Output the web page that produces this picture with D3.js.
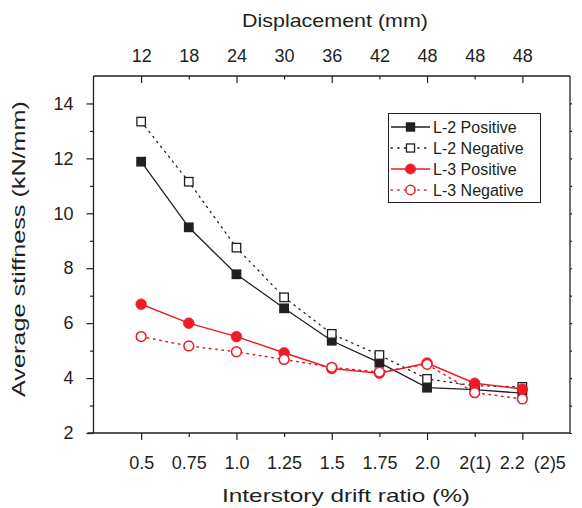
<!DOCTYPE html>
<html><head><meta charset="utf-8">
<script src="https://cdn.jsdelivr.net/npm/d3@7/dist/d3.min.js"></script>
<style>
html,body{margin:0;padding:0;background:#fff;}
text{font-family:"Liberation Sans",Arial,Helvetica,sans-serif;fill:#231f20;}
</style></head>
<body><svg id="c" width="582" height="508"></svg>
<script>
// categories (index positions 1..9)
const categories = [1,2,3,4,5,6,7,8,9];
const bottomLabels = ["0.5","0.75","1.0","1.25","1.5","1.75","2.0","2(1)","2.2 (2)5"];
const topLabels = ["12","18","24","30","36","42","48","48","48"];
const yTicks = [2,4,6,8,10,12,14];
const L2Positive = [11.88, 9.49, 7.78, 6.54, 5.36, 4.56, 3.65, 3.58, 3.45];
const L2Negative = [13.34, 11.15, 8.75, 6.94, 5.61, 4.84, 3.97, 3.72, 3.68];
const L3Positive = [6.69, 6.00, 5.51, 4.92, 4.35, 4.18, 4.55, 3.81, 3.60];
const L3Negative = [5.51, 5.17, 4.96, 4.68, 4.39, 4.22, 4.50, 3.47, 3.24];
const seriesNames = ["L-2 Positive","L-2 Negative","L-3 Positive","L-3 Negative"];

const BLACK="#231f20", RED="#ed1c24";
const svg = d3.select("#c");
const L=93.5, R=570, T=76, B=433;
const x = d3.scaleLinear().domain([0,10]).range([L,R]);
const y = d3.scaleLinear().domain([2,15]).range([B,T]);

const series = [
  {name:seriesNames[0], vals:L2Positive, color:BLACK, shape:"square", filled:true, dash:null},
  {name:seriesNames[1], vals:L2Negative, color:BLACK, shape:"square", filled:false, dash:"1.4,4.9"},
  {name:seriesNames[2], vals:L3Positive, color:RED, shape:"circle", filled:true, dash:null},
  {name:seriesNames[3], vals:L3Negative, color:RED, shape:"circle", filled:false, dash:"1.6,4.7"}
];

const axisStyle = g => { g.selectAll("path").attr("stroke",BLACK).attr("stroke-width",1.3);
  g.selectAll("line").attr("stroke",BLACK).attr("stroke-width",1.2);
  g.selectAll("text").attr("fill",BLACK).style("font-size","18px"); };

// bottom
const gb = svg.append("g").attr("transform",`translate(0,${B})`)
  .call(d3.axisBottom(x).tickValues(categories).tickSizeInner(7).tickSizeOuter(0)
    .tickPadding(16).tickFormat((d,i)=>bottomLabels[i]));
axisStyle(gb);
gb.selectAll(".tick line").attr("y2",(d)=> d%2===1?7:4);
gb.selectAll(".tick text").filter((d,i)=>i===8).attr("text-anchor","start").attr("dx",-23)
  .attr("word-spacing","4px");

// top
const gt = svg.append("g").attr("transform",`translate(0,${T})`)
  .call(d3.axisTop(x).tickValues(categories).tickSizeInner(-7).tickSizeOuter(0)
    .tickPadding(14).tickFormat((d,i)=>topLabels[i]));
axisStyle(gt);
gt.selectAll(".tick line").attr("y2",(d)=> d%2===1?7:3.5);
gt.selectAll(".tick text").attr("dy","0");

// left
const gl = svg.append("g").attr("transform",`translate(${L},0)`)
  .call(d3.axisLeft(y).tickValues(d3.range(2,15,1)).tickSizeInner(7).tickSizeOuter(0)
    .tickPadding(13).tickFormat(d=> yTicks.includes(d)? String(d):""));
axisStyle(gl);
gl.selectAll(".tick line").attr("x2",d=> d%2===0?-7:-3.5);
gl.select(".domain").attr("d",`M0,${B}V${T}`);

// right
const gr = svg.append("g").attr("transform",`translate(${R},0)`)
  .call(d3.axisRight(y).tickValues(d3.range(2,15,1)).tickSizeInner(2).tickSizeOuter(0).tickFormat(""));
axisStyle(gr);
gr.select(".domain").attr("d",`M0,${B}V${T}`);

gb.select(".domain").attr("d",`M${L-6},0H${R}`);
gt.select(".domain").attr("d",`M${L},0H${R}`);

// titles
svg.append("text").attr("x",335).attr("y",27).attr("text-anchor","middle")
  .style("font-size","19px").attr("textLength",186).attr("lengthAdjust","spacingAndGlyphs")
  .text("Displacement (mm)");
svg.append("text").attr("x",346).attr("y",502).attr("text-anchor","middle")
  .style("font-size","19px").attr("textLength",248).attr("lengthAdjust","spacingAndGlyphs")
  .text("Interstory drift ratio (%)");
svg.append("text").attr("transform","translate(25,249) rotate(-90)").attr("text-anchor","middle")
  .style("font-size","19px").attr("textLength",296).attr("lengthAdjust","spacingAndGlyphs")
  .text("Average stiffness (kN/mm)");

// series
const line = d3.line().x((d,i)=>x(categories[i])).y(d=>y(d));
function marker(g, cx, cy, s, scale){
  const k = scale||1;
  if(s.shape==="square"){
    const a = 8.5*k;
    g.append("rect").attr("x",cx-a/2).attr("y",cy-a/2).attr("width",a).attr("height",a)
      .attr("fill",s.filled?s.color:"#fff").attr("stroke",s.color).attr("stroke-width",1.3);
  } else {
    const r = s.filled?5.3*k:4.9*k;
    g.append("circle").attr("cx",cx).attr("cy",cy).attr("r",r)
      .attr("fill",s.filled?s.color:"#fff").attr("stroke",s.color).attr("stroke-width",s.filled?0.8:1.5);
  }
}
series.forEach(s=>{
  const g = svg.append("g");
  g.append("path").attr("d",line(s.vals)).attr("fill","none").attr("stroke",s.color)
    .attr("stroke-width", s.color===RED?1.5:1.3)
    .attr("stroke-dasharray",s.dash).attr("stroke-linecap", s.dash?"round":"butt");
  s.vals.forEach((v,i)=>marker(g, x(categories[i]), y(v), s));
});

// legend
const lg = svg.append("g");
lg.append("rect").attr("x",388.5).attr("y",113.5).attr("width",152).attr("height",89)
  .attr("fill","#fff").attr("stroke",BLACK).attr("stroke-width",1);
series.forEach((s,i)=>{
  const cy = 127 + i*21;
  lg.append("line").attr("x1",391).attr("x2",430).attr("y1",cy).attr("y2",cy)
    .attr("stroke",s.color).attr("stroke-width",s.color===RED?1.5:1.3)
    .attr("stroke-dasharray",s.dash?"1.4,5.3":null).attr("stroke-linecap",s.dash?"round":"butt");
  marker(lg, 410.5, cy, s, 0.95);
  lg.append("text").attr("x",433).attr("y",cy+5.5).style("font-size","16px").text(s.name);
});
</script></body></html>
